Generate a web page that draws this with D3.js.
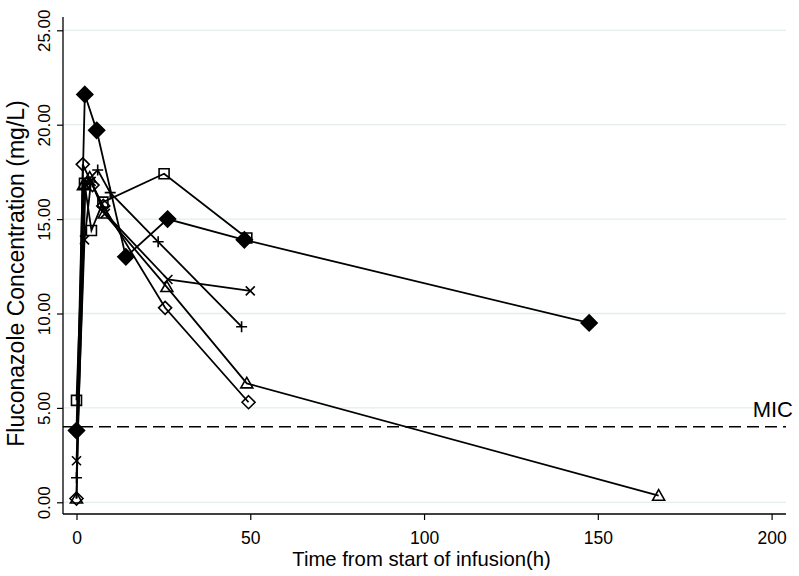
<!DOCTYPE html>
<html><head><meta charset="utf-8">
<script src="https://cdn.jsdelivr.net/npm/d3@7"></script>
<style>body{margin:0;background:#fff}svg{display:block}text{font-family:"Liberation Sans",Arial,Helvetica,sans-serif;fill:#000}</style>
</head><body>
<svg id="c" width="799" height="576"></svg>
<script>
// ---- data ----
const xTicks = [0, 50, 100, 150, 200];
const yTicks = [0, 5, 10, 15, 20, 25];
const micValue = 4;
const micLabel = "MIC";
const xTitle = "Time from start of infusion(h)";
const yTitle = "Fluconazole Concentration (mg/L)";

const tFilledDiamond = [0, 2.4, 5.8, 14.2, 26.2, 48.3, 147.5];
const vFilledDiamond = [3.8, 21.6, 19.7, 13.0, 15.0, 13.9, 9.5];
const tSquare = [0, 2.3, 4.3, 7.6, 25.2, 49.0];
const vSquare = [5.4, 16.9, 14.4, 15.9, 17.4, 14.0];
const tHollowDiamond = [0, 1.8, 4.6, 7.7, 25.5, 49.5];
const vHollowDiamond = [0.2, 17.9, 16.8, 15.7, 10.3, 5.3];
const tTriangle = [0, 2.0, 3.8, 8.0, 26.0, 49.0, 167.5];
const vTriangle = [0.2, 16.8, 17.2, 15.3, 11.4, 6.3, 0.35];
const tPlus = [0, 2.6, 6.1, 9.7, 23.5, 47.5];
const vPlus = [1.3, 16.9, 17.6, 16.4, 13.8, 9.3];
const tCross = [0, 2.3, 4.2, 8.3, 26.3, 50.0];
const vCross = [2.2, 13.9, 17.0, 15.3, 11.8, 11.2];

const series = [
  {t: tFilledDiamond, v: vFilledDiamond, m: "Dfill"},
  {t: tSquare, v: vSquare, m: "Sq"},
  {t: tHollowDiamond, v: vHollowDiamond, m: "D"},
  {t: tTriangle, v: vTriangle, m: "T"},
  {t: tPlus, v: vPlus, m: "P"},
  {t: tCross, v: vCross, m: "X"}
];

// ---- layout ----
const svg = d3.select("#c");
const pLeft = 63, pRight = 786, pTop = 17, pBottom = 514;
const x = d3.scaleLinear().domain([0, 200]).range([76.5, 771.6]);
const y = d3.scaleLinear().domain([0, 25]).range([502.3, 30.3]);

// gridlines
svg.append("g").selectAll("line").data(yTicks).join("line")
  .attr("x1", pLeft).attr("x2", pRight)
  .attr("y1", d => y(d)).attr("y2", d => y(d))
  .attr("stroke", "#e4eded").attr("stroke-width", 1.3);

// y axis
const ya = svg.append("g").attr("transform", `translate(${pLeft},0)`)
  .call(d3.axisLeft(y).tickValues(yTicks).tickSize(6).tickSizeOuter(0).tickFormat(d3.format(".2f")));
ya.select(".domain").remove();
ya.selectAll(".tick line").attr("stroke", "#000").attr("stroke-width", 1.2);
ya.selectAll(".tick text").attr("font-size", 17).attr("font-family", null)
  .attr("x", null).attr("dy", null).attr("text-anchor", "middle")
  .attr("transform", "translate(-13,0) rotate(-90)");

// x axis
const xa = svg.append("g").attr("transform", `translate(0,${pBottom})`)
  .call(d3.axisBottom(x).tickValues(xTicks).tickSize(6).tickSizeOuter(0).tickFormat(d3.format("d")));
xa.select(".domain").remove();
xa.selectAll(".tick line").attr("stroke", "#000").attr("stroke-width", 1.2);
xa.selectAll(".tick text").attr("font-size", 17.5).attr("font-family", null)
  .attr("y", 30).attr("dy", null);

// frame lines
svg.append("line").attr("x1", pLeft).attr("x2", pLeft).attr("y1", pTop).attr("y2", pBottom)
  .attr("stroke", "#000").attr("stroke-width", 1.3);
svg.append("line").attr("x1", pLeft).attr("x2", pRight).attr("y1", pBottom).attr("y2", pBottom)
  .attr("stroke", "#000").attr("stroke-width", 1.3);

// titles
svg.append("text").attr("x", (pLeft + pRight) / 2 - 3).attr("y", 566).attr("text-anchor", "middle")
  .attr("font-size", 20.3).text(xTitle);
svg.append("text").attr("transform", `translate(24,${(pTop + pBottom) / 2 + 8}) rotate(-90)`)
  .attr("text-anchor", "middle").attr("font-size", 23).text(yTitle);

// MIC line
svg.append("line").attr("x1", pLeft).attr("x2", pRight).attr("y1", y(micValue)).attr("y2", y(micValue))
  .attr("stroke", "#000").attr("stroke-width", 1.6).attr("stroke-dasharray", "12,6");
svg.append("text").attr("x", pRight + 7).attr("y", y(micValue) - 10).attr("text-anchor", "end")
  .attr("font-size", 22).text(micLabel);

// series lines
const line = d3.line().x(d => x(d[0])).y(d => y(d[1]));
const g = svg.append("g");
series.forEach(s => {
  const pts = s.t.map((t, i) => [t, s.v[i]]);
  g.append("path").datum(pts).attr("d", line).attr("fill", "none")
    .attr("stroke", "#000").attr("stroke-width", 1.8);
});

function markerPath(m) {
  switch (m) {
    case "Dfill": return "M0,-8L8,0L0,8L-8,0Z";
    case "D": return "M0,-6.5L6.5,0L0,6.5L-6.5,0Z";
    case "Sq": return "M-5,-5H5V5H-5Z";
    case "T": return "M0,-6L6,4.5H-6Z";
    case "P": return "M-5.5,0H5.5M0,-5.5V5.5";
    case "X": return "M-4.5,-4.5L4.5,4.5M-4.5,4.5L4.5,-4.5";
  }
}
series.forEach(s => {
  const pts = s.t.map((t, i) => [t, s.v[i]]);
  g.append("g").selectAll("path").data(pts).join("path")
    .attr("transform", d => `translate(${x(d[0])},${y(d[1])})`)
    .attr("d", markerPath(s.m))
    .attr("fill", s.m === "Dfill" ? "#000" : "none")
    .attr("stroke", "#000").attr("stroke-width", 1.6);
});
</script>
</body></html>
